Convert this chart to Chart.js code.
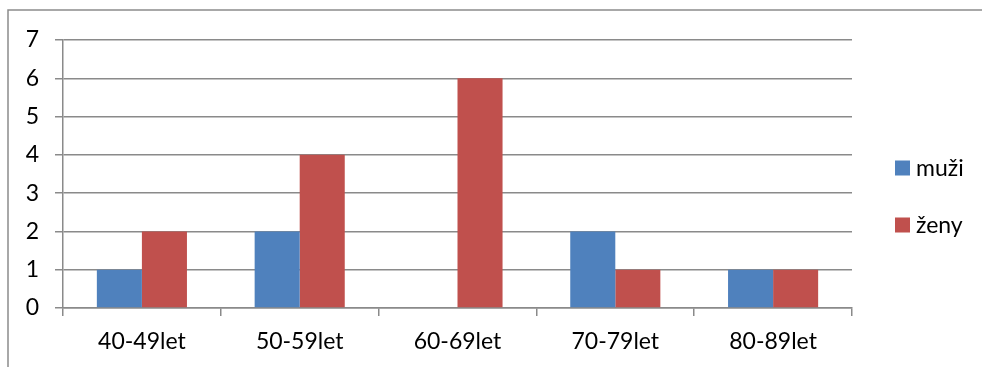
<!DOCTYPE html>
<html>
<head>
<meta charset="utf-8">
<script src="https://cdn.jsdelivr.net/npm/chart.js@4"></script>
<style>
  html, body { margin: 0; padding: 0; background: #fff; }
  #wrap { width: 982px; height: 367px; position: relative; }
</style>
</head>
<body>
<div id="wrap"><canvas id="chart"></canvas></div>
<script>
// kategorie a hodnoty
const categories = ['40-49let', '50-59let', '60-69let', '70-79let', '80-89let'];
const muzi = [1, 2, 0, 2, 1];
const zeny = [2, 4, 6, 1, 1];
const seriesNames = ['muži', 'ženy'];
const seriesColors = ['#4F81BD', '#C0504D'];
const yTicks = [0, 1, 2, 3, 4, 5, 6, 7];

const FONT = 'Lato, Calibri, sans-serif';
const gridColor = '#8a8a8a';

// ramecek grafu (horni a leva hrana) + legenda vpravo
const framePlugin = {
  id: 'frame',
  beforeDraw(chart) {
    const c = chart.ctx;
    c.save();
    c.strokeStyle = '#8c8c8c';
    c.lineWidth = 1.5;
    c.beginPath();
    c.moveTo(8, 367);
    c.lineTo(8, 10);
    c.lineTo(982, 10);
    c.stroke();
    c.restore();
  },
  afterDraw(chart) {
    const c = chart.ctx;
    c.save();
    c.font = '23px ' + FONT;
    c.textBaseline = 'middle';
    chart.data.datasets.forEach((ds, i) => {
      const y = 168 + i * 57;
      c.fillStyle = ds.backgroundColor;
      c.fillRect(895, y - 7.5, 15, 15);
      c.fillStyle = '#000';
      c.fillText(ds.label, 916, y + 1);
    });
    c.restore();
  }
};

new Chart(document.getElementById('chart'), {
  type: 'bar',
  data: {
    labels: categories,
    datasets: [
      { label: seriesNames[0], data: muzi, backgroundColor: seriesColors[0] },
      { label: seriesNames[1], data: zeny, backgroundColor: seriesColors[1] }
    ]
  },
  options: {
    responsive: true,
    maintainAspectRatio: false,
    animation: false,
    devicePixelRatio: 1,
    layout: { padding: { left: 0, right: 130, top: 40, bottom: 0 } },
    datasets: {
      bar: { categoryPercentage: 0.571, barPercentage: 1.0, borderWidth: 0 }
    },
    plugins: {
      legend: { display: false },
      tooltip: { enabled: false }
    },
    scales: {
      x: {
        afterFit: (scale) => { scale.height = 59; },
        grid: {
          offset: true,
          drawOnChartArea: false,
          drawTicks: true,
          tickLength: 8,
          color: gridColor,
          lineWidth: 1.5
        },
        border: { display: true, color: gridColor, width: 1.5 },
        ticks: {
          color: '#000',
          padding: 12,
          font: { family: FONT, size: 23 }
        }
      },
      y: {
        min: 0,
        max: 7,
        afterFit: (scale) => { scale.width = 63; },
        afterBuildTicks: (scale) => { scale.ticks = yTicks.map(v => ({ value: v })); },
        grid: {
          color: gridColor,
          lineWidth: 1.5,
          tickLength: 8
        },
        border: { display: true, color: gridColor, width: 1.5 },
        ticks: {
          color: '#000',
          padding: 16,
          font: { family: FONT, size: 23 }
        }
      }
    }
  },
  plugins: [framePlugin]
});
</script>
</body>
</html>
